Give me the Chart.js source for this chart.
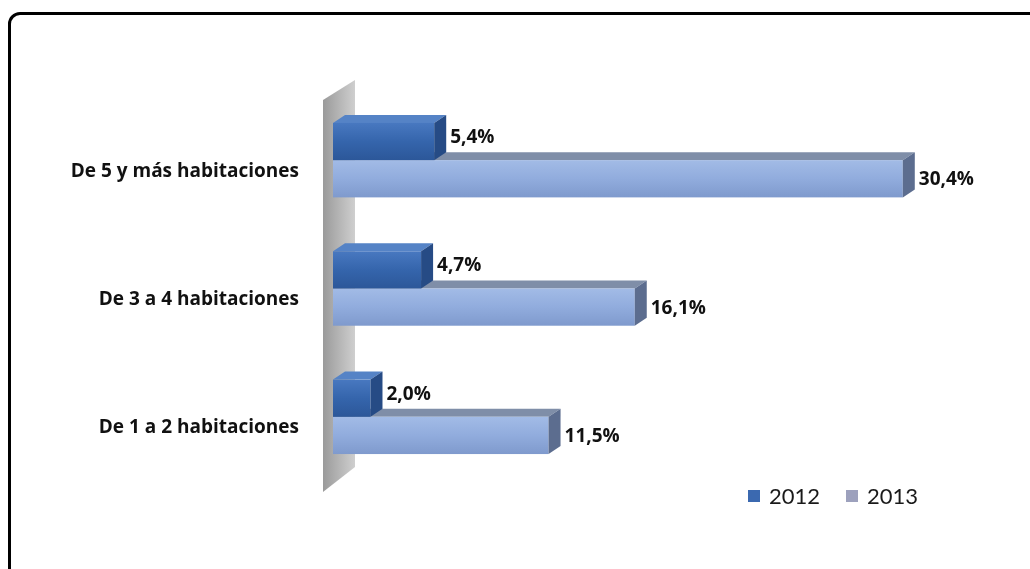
<!DOCTYPE html>
<html>
<head>
<meta charset="utf-8">
<script src="https://cdn.jsdelivr.net/npm/chart.js@4.4.1/dist/chart.umd.min.js"></script>
<style>
  html, body { margin: 0; padding: 0; background: #fff; overflow: hidden; }
  #wrap { position: relative; width: 1030px; height: 569px; }
  #frame {
    position: absolute; left: 8px; top: 12px; width: 1060px; height: 600px;
    border: 3px solid #000; border-radius: 12px; box-sizing: border-box;
  }
  #myChart { position: absolute; left: 0; top: 0; }
  #legend {
    position: absolute; left: 748px; top: 482px;
    font-family: Lato, "Open Sans", sans-serif; font-size: 22px; color: #1a1a1a;
    display: flex; align-items: center;
  }
  #legend span.box { display: inline-block; width: 12px; height: 12px; margin-right: 9px; }
  #legend span.item { display: flex; align-items: center; margin-right: 26px; }
</style>
</head>
<body>
<div id="wrap">
  <div id="frame"></div>
  <canvas id="myChart" width="1030" height="569"></canvas>
  <div id="legend"></div>
</div>
<script>
var categories = ['De 5 y más habitaciones', 'De 3 a 4 habitaciones', 'De 1 a 2 habitaciones'];
var seriesNames = ['2012', '2013'];
var values2012 = [5.4, 4.7, 2.0];
var values2013 = [30.4, 16.1, 11.5];

// colours for the faked 3D faces
var faces = {
    '2012': { front: ['#4878c0', '#3565ac', '#2c5799'], top: '#5583c6', side: '#264b85', legend: '#3b69b0', labelDy: -4 },
    '2013': { front: ['#a2bbe6', '#91acdd', '#7f9acd'], top: '#7f8ea8', side: '#5c6d8f', legend: '#9da1bd', labelDy: 1 }
};
var DX = 12, DY = -8;

function fmt(v) {
    return v.toFixed(1).replace('.', ',') + '%';
}

var wallPlugin = {
    id: 'wall',
    beforeDatasetsDraw: function(chart) {
        var c = chart.ctx, a = chart.chartArea;
        var l = a.left - 10;
        var g = c.createLinearGradient(l, 0, l + 32, 0);
        g.addColorStop(0, '#9a9a9a');
        g.addColorStop(1, '#cfcfcf');
        c.save();
        c.fillStyle = g;
        c.beginPath();
        c.moveTo(l, a.top + 4);
        c.lineTo(l + 32, a.top - 16);
        c.lineTo(l + 32, a.bottom - 14);
        c.lineTo(l, a.bottom + 11);
        c.closePath();
        c.fill();
        c.restore();
    }
};

var bars3d = {
    id: 'bars3d',
    afterDatasetsDraw: function(chart) {
        var c = chart.ctx;
        // draw 2013 first so the 2012 bar sits over its top face
        [1, 0].forEach(function(di) {
            var meta = chart.getDatasetMeta(di);
            var f = faces[seriesNames[di]];
            meta.data.forEach(function(bar) {
                var p = bar.getProps(['x', 'y', 'base', 'height'], true);
                var x0 = p.base, x1 = p.x, y0 = p.y - p.height / 2, y1 = p.y + p.height / 2;
                c.save();
                // top face
                c.fillStyle = f.top;
                c.beginPath();
                c.moveTo(x0, y0); c.lineTo(x0 + DX, y0 + DY); c.lineTo(x1 + DX, y0 + DY); c.lineTo(x1, y0);
                c.closePath(); c.fill();
                // front face
                var g = c.createLinearGradient(0, y0, 0, y1);
                g.addColorStop(0, f.front[0]);
                g.addColorStop(0.5, f.front[1]);
                g.addColorStop(1, f.front[2]);
                c.fillStyle = g;
                c.fillRect(x0, y0, x1 - x0, y1 - y0);
                // side face
                c.fillStyle = f.side;
                c.beginPath();
                c.moveTo(x1, y0); c.lineTo(x1 + DX, y0 + DY); c.lineTo(x1 + DX, y1 + DY); c.lineTo(x1, y1);
                c.closePath(); c.fill();
                c.restore();
            });
        });
        // value labels
        c.save();
        c.font = 'bold 19px "Open Sans", Lato, sans-serif';
        c.fillStyle = '#111';
        c.textAlign = 'left';
        c.textBaseline = 'middle';
        chart.data.datasets.forEach(function(ds, di) {
            var f = faces[seriesNames[di]];
            chart.getDatasetMeta(di).data.forEach(function(bar, i) {
                c.fillText(fmt(ds.data[i]), bar.x + DX + 4, bar.y + f.labelDy);
            });
        });
        c.restore();
    }
};

var ctx = document.getElementById('myChart').getContext('2d');
var myChart = new Chart(ctx, {
    type: 'bar',
    data: {
        labels: categories,
        datasets: [{
            label: seriesNames[0],
            data: values2012,
            backgroundColor: 'rgba(0,0,0,0)'
        },
        {
            label: seriesNames[1],
            data: values2013,
            backgroundColor: 'rgba(0,0,0,0)'
        }]
    },
    options: {
        indexAxis: 'y',
        responsive: false,
        animation: false,
        categoryPercentage: 0.58,
        barPercentage: 1.0,
        layout: { padding: { top: 96, bottom: 88, right: 41, left: 0 } },
        plugins: {
            legend: { display: false },
            tooltip: { enabled: false }
        },
        scales: {
            x: {
                display: false,
                min: 0,
                max: 35
            },
            y: {
                grid: { display: false, drawTicks: false },
                border: { display: false },
                ticks: {
                    padding: 34,
                    labelOffset: 11,
                    color: '#111',
                    font: { family: '"Open Sans", Lato, sans-serif', size: 19, weight: 'bold' }
                },
                afterFit: function(scale) { scale.width = 333; }
            }
        }
    },
    plugins: [wallPlugin, bars3d]
});

var legend = document.getElementById('legend');
seriesNames.forEach(function(name) {
    var item = document.createElement('span');
    item.className = 'item';
    var box = document.createElement('span');
    box.className = 'box';
    box.style.background = faces[name].legend;
    item.appendChild(box);
    item.appendChild(document.createTextNode(name));
    legend.appendChild(item);
});
</script>
</body>
</html>
